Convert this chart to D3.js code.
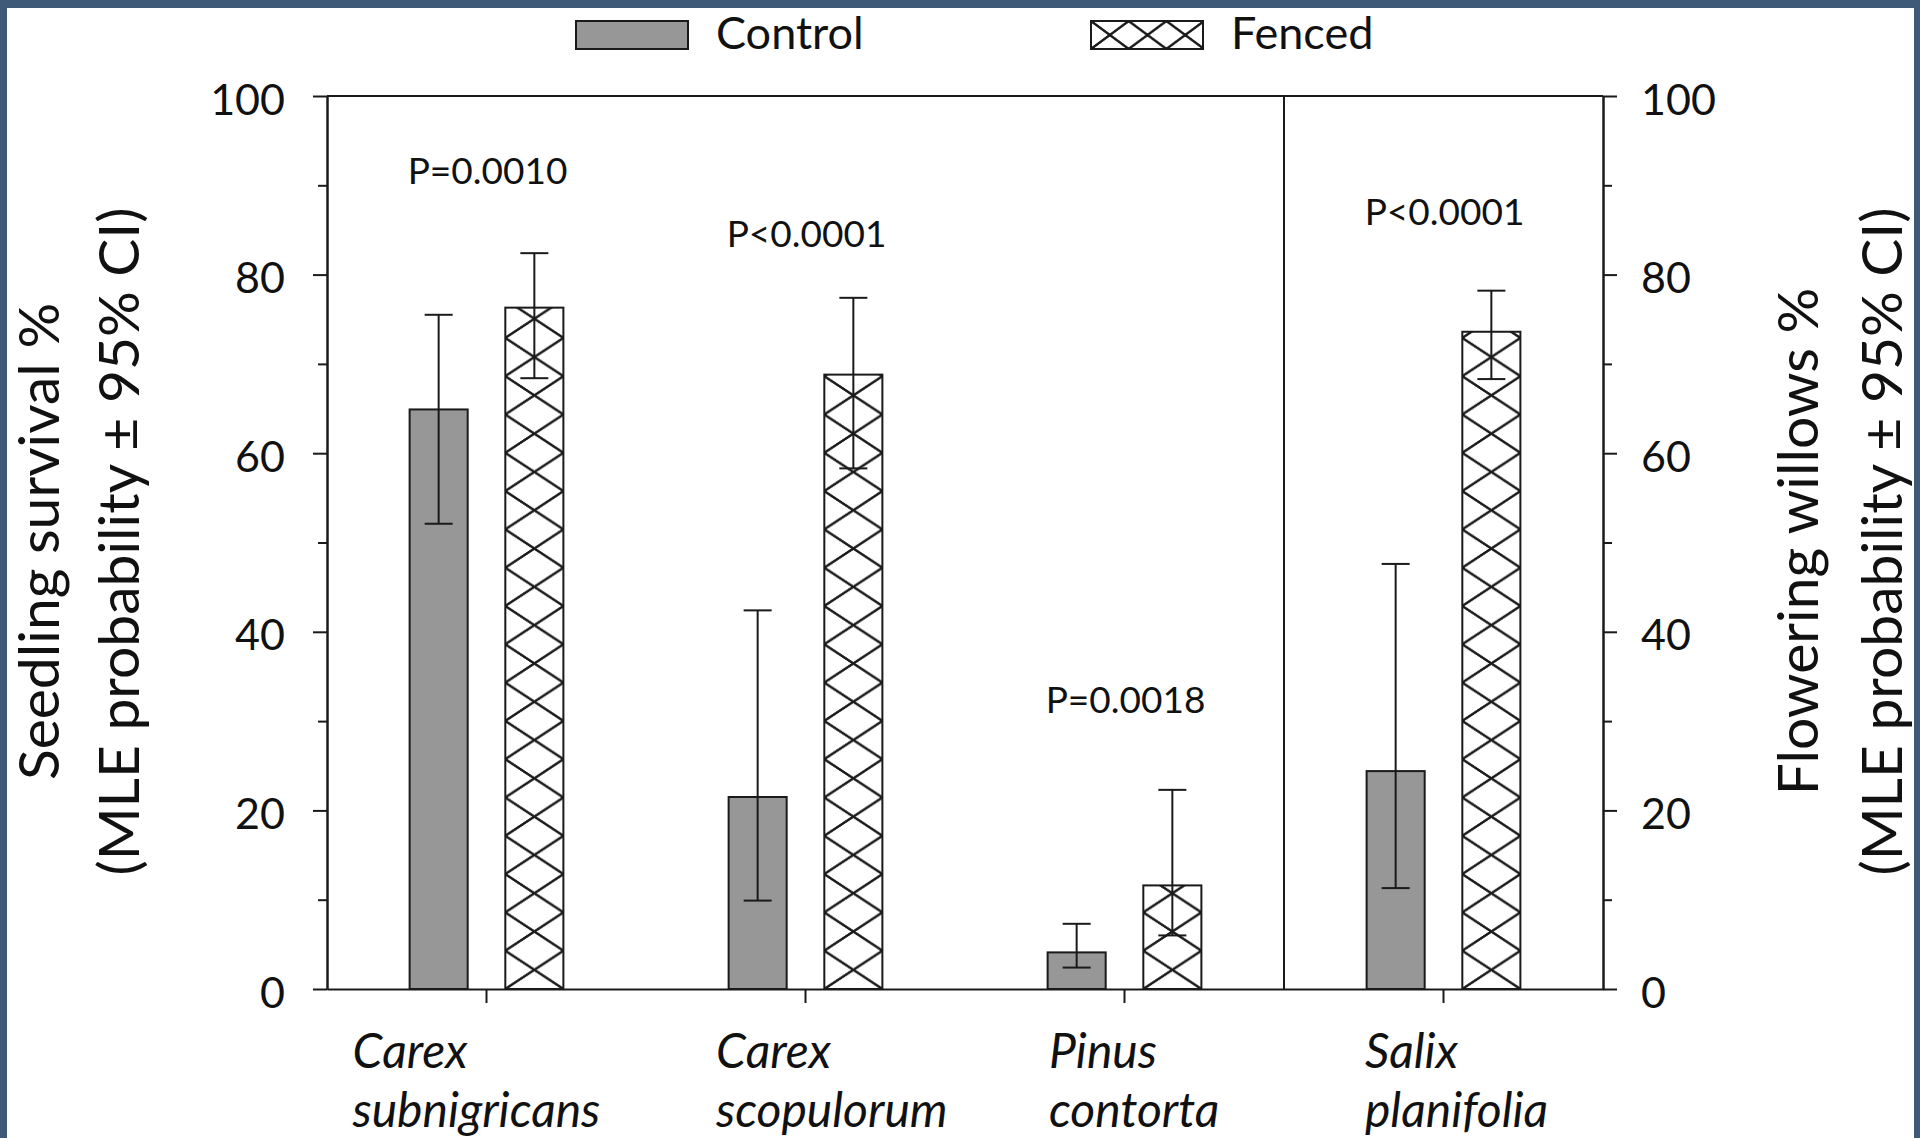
<!DOCTYPE html>
<html>
<head>
<meta charset="utf-8">
<script src="https://cdn.jsdelivr.net/npm/d3@7"></script>
<style>
  html, body { margin: 0; padding: 0; background: #fff; }
  svg { display: block; }
  text { font-family: Lato, "Open Sans", sans-serif; fill: #111; }
</style>
</head>
<body>
<svg id="chart" width="1920" height="1138"></svg>
<script>
// ---------------- data ----------------
const genus   = ["Carex", "Carex", "Pinus", "Salix"];
const species = ["subnigricans", "scopulorum", "contorta", "planifolia"];
const categories = genus.map((g, i) => g + " " + species[i]);

const controlValues = [64.9, 21.5, 4.1, 24.4];
const controlLower  = [52.1, 9.9, 2.4, 11.3];
const controlUpper  = [75.5, 42.4, 7.3, 47.6];

const fencedValues = [76.3, 68.8, 11.6, 73.6];
const fencedLower  = [68.4, 58.3, 6.0, 68.3];
const fencedUpper  = [82.4, 77.4, 22.3, 78.2];

const pLabels     = ["P=0.0010", "P<0.0001", "P=0.0018", "P<0.0001"];
const pLabelLevel = [90.2, 83.1, 30.9, 85.6];

const yMajorTicks = [0, 20, 40, 60, 80, 100];
const yMinorTicks = [10, 30, 50, 70, 90];

const seriesNames = ["Control", "Fenced"];
const leftTitle  = ["Seedling survival %", "(MLE probability \u00b1 95% CI)"];
const rightTitle = ["Flowering willows %", "(MLE probability \u00b1 95% CI)"];

// ---------------- layout ----------------
const W = 1920, H = 1138;
const plot = { left: 327, right: 1603, top: 96, bottom: 989 };
const labelShift = [-134, -89.5, -75.5, -78.5];
const ink = "#1a1a1a";
const border = "#3e5a78";

const svg = d3.select("#chart");

// frame border
svg.append("rect").attr("x", 0).attr("y", 0).attr("width", W).attr("height", H).attr("fill", border);
svg.append("rect").attr("x", 7).attr("y", 8).attr("width", W - 13).attr("height", H - 8).attr("fill", "#fff");

const x = d3.scaleBand().domain(categories).range([plot.left, plot.right]).padding(0);
const y = d3.scaleLinear().domain([0, 100]).range([plot.bottom, plot.top]);
const bw = x.bandwidth();
const barW = bw * 0.182;
const barOff = bw * 0.15;
const cx = c => x(c) + bw / 2;

const defs = svg.append("defs");
const hatchH = 38.3;
function makeHatch(id, px, py, w, h) {
  const p = defs.append("pattern").attr("id", id)
    .attr("patternUnits", "userSpaceOnUse")
    .attr("x", px).attr("y", py).attr("width", w).attr("height", h);
  p.append("rect").attr("width", w).attr("height", h).attr("fill", "#fff");
  const segs = [[0, 0, w, h], [0, h, w, 0],
                [-w, -h, w, h], [0, 0, 2 * w, 2 * h], [-w, 2 * h, w, 0], [0, h, 2 * w, -h]];
  segs.forEach(s => p.append("line")
    .attr("x1", s[0]).attr("y1", s[1]).attr("x2", s[2]).attr("y2", s[3])
    .attr("stroke", ink).attr("stroke-width", 1.9));
}

// ---------------- bars ----------------
const g = svg.append("g");

categories.forEach((c, i) => {
  const xc = cx(c) - barOff - barW / 2;
  const xf = cx(c) + barOff - barW / 2;
  makeHatch("hatch" + i, xf, y(0), barW, hatchH);

  g.append("rect").attr("x", xc).attr("y", y(controlValues[i]))
    .attr("width", barW).attr("height", y(0) - y(controlValues[i]))
    .attr("fill", "#979797").attr("stroke", ink).attr("stroke-width", 2);
  g.append("rect").attr("x", xf).attr("y", y(fencedValues[i]))
    .attr("width", barW).attr("height", y(0) - y(fencedValues[i]))
    .attr("fill", "url(#hatch" + i + ")").attr("stroke", ink).attr("stroke-width", 2);
});

// error bars
function errBar(xm, lo, hi) {
  const cap = 14;
  g.append("line").attr("x1", xm).attr("x2", xm).attr("y1", y(lo)).attr("y2", y(hi))
    .attr("stroke", ink).attr("stroke-width", 2);
  [lo, hi].forEach(v => g.append("line").attr("x1", xm - cap).attr("x2", xm + cap)
    .attr("y1", y(v)).attr("y2", y(v)).attr("stroke", ink).attr("stroke-width", 2));
}
categories.forEach((c, i) => {
  errBar(cx(c) - barOff, controlLower[i], controlUpper[i]);
  errBar(cx(c) + barOff, fencedLower[i], fencedUpper[i]);
});

// ---------------- axes ----------------
function styleAxis(sel) {
  sel.selectAll("path, line").attr("stroke", ink).attr("stroke-width", 2);
  sel.selectAll("text").attr("font-size", 43).attr("fill", "#111").attr("dy", "0.42em")
    .style("font-family", "Lato, 'Open Sans', sans-serif");
}

const leftMajor = svg.append("g").attr("transform", `translate(${plot.left},0)`)
  .call(d3.axisLeft(y).tickValues(yMajorTicks).tickSize(14).tickSizeOuter(0).tickPadding(28).tickFormat(d3.format("d")));
styleAxis(leftMajor);
const leftMinor = svg.append("g").attr("transform", `translate(${plot.left},0)`)
  .call(d3.axisLeft(y).tickValues(yMinorTicks).tickSize(9).tickSizeOuter(0).tickFormat(""));
styleAxis(leftMinor);

const rightMajor = svg.append("g").attr("transform", `translate(${plot.right},0)`)
  .call(d3.axisRight(y).tickValues(yMajorTicks).tickSize(14).tickSizeOuter(0).tickPadding(24).tickFormat(d3.format("d")));
styleAxis(rightMajor);
const rightMinor = svg.append("g").attr("transform", `translate(${plot.right},0)`)
  .call(d3.axisRight(y).tickValues(yMinorTicks).tickSize(9).tickSizeOuter(0).tickFormat(""));
styleAxis(rightMinor);

const bottom = svg.append("g").attr("transform", `translate(0,${plot.bottom})`)
  .call(d3.axisBottom(x).tickSize(14).tickSizeOuter(0).tickFormat(""));
styleAxis(bottom);

// top frame line and divider
svg.append("line").attr("x1", plot.left).attr("x2", plot.right).attr("y1", y(100)).attr("y2", y(100))
  .attr("stroke", ink).attr("stroke-width", 2);
svg.append("line").attr("x1", x(categories[3])).attr("x2", x(categories[3]))
  .attr("y1", y(100)).attr("y2", y(0)).attr("stroke", ink).attr("stroke-width", 2);

// category labels
categories.forEach((c, i) => {
  const t = svg.append("text").attr("font-style", "italic").attr("font-size", 48);
  t.append("tspan").attr("x", cx(c) + labelShift[i]).attr("y", 1068).text(genus[i]);
  t.append("tspan").attr("x", cx(c) + labelShift[i]).attr("y", 1127).text(species[i]);
});

// p labels
categories.forEach((c, i) => {
  svg.append("text").attr("x", cx(c) + 1).attr("y", y(pLabelLevel[i]))
    .attr("text-anchor", "middle").attr("font-size", 37).text(pLabels[i]);
});

// axis titles
function vTitle(lines, xs) {
  lines.forEach((s, k) => {
    svg.append("text")
      .attr("transform", `translate(${xs[k]},${(plot.top + plot.bottom) / 2 - 1}) rotate(-90)`)
      .attr("text-anchor", "middle").attr("font-size", 57).text(s);
  });
}
vTitle(leftTitle, [59, 139]);
vTitle(rightTitle, [1818, 1902]);

// legend
const legend = svg.append("g");
const legendX = [576, 1091];
makeHatch("hatchLegend", legendX[1], 21, 37.7, 28);
seriesNames.forEach((s, i) => {
  legend.append("rect").attr("x", legendX[i]).attr("y", 21).attr("width", 112).attr("height", 28)
    .attr("fill", i === 0 ? "#979797" : "url(#hatchLegend)")
    .attr("stroke", ink).attr("stroke-width", 2);
  legend.append("text").attr("x", legendX[i] + 140).attr("y", 49).attr("font-size", 45).text(s);
});
</script>
</body>
</html>
